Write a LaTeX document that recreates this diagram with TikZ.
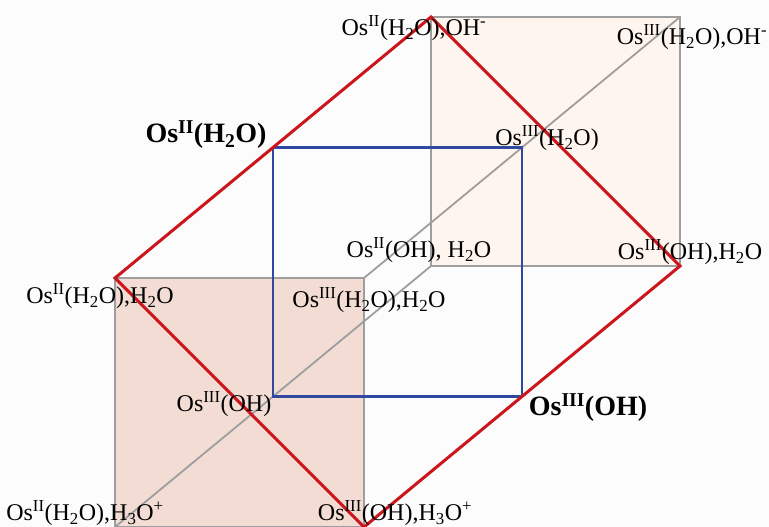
\documentclass[tikz,border=0pt]{standalone}
\usepackage{fontspec}
\setmainfont{Liberation Serif}
\usetikzlibrary{calc}

\definecolor{redline}{RGB}{204,22,30}
\definecolor{blueline}{RGB}{48,72,160}
\definecolor{grayline}{RGB}{158,158,158}
\definecolor{backfill}{RGB}{254,245,238}
\definecolor{frontfill}{RGB}{242,220,212}
\definecolor{paper}{RGB}{252,252,252}

\newcommand{\osion}[1]{Os\textsuperscript{#1}}
\newcommand{\water}{H\textsubscript{2}O}
\newcommand{\hydronium}{H\textsubscript{3}O\textsuperscript{+}}

\begin{document}
\begin{tikzpicture}[
    x=1pt, y=-1pt,
    edge/.style={draw=grayline, line width=1.8pt},
    plane/.style={draw=redline, line width=3pt, line join=miter},
    mid/.style={draw=blueline, line width=2.8pt},
    lbl/.style={font=\fontsize{24}{28}\selectfont, inner sep=0pt},
    big/.style={font=\fontsize{28}{32}\selectfont\bfseries, inner sep=0pt},
]
\useasboundingbox (0,0) rectangle (769,527);
\fill[paper] (0,0) rectangle (769,527);

%% Cara davantera (f) i cara posterior (b)
\coordinate (fa) at (115,278); \coordinate (fb) at (364,278);
\coordinate (fc) at (364,527); \coordinate (fd) at (115,527);
\coordinate (ba) at (431,17);  \coordinate (bb) at (680,17);
\coordinate (bc) at (680,266); \coordinate (bd) at (431,266);

\fill[frontfill] (fa) rectangle (fc);
\fill[backfill]  (ba) rectangle (bc);
\draw[edge] (fa) -- (fb) -- (fc) -- (fd) -- cycle;
\draw[edge] (ba) -- (bb) -- (bc) -- (bd) -- cycle;
\foreach \a/\b in {fa/ba, fb/bb, fc/bc, fd/bd}
  \draw[edge] (\a) -- (\b);

%% Secció intermèdia (blava)
\foreach \p in {a,b,c,d}
  \coordinate (m\p) at ($(f\p)!0.5!(b\p)$);
\draw[mid] (ma) -- (mb) -- (mc) -- (md) -- cycle;

%% Pla diagonal (vermell)
\draw[plane] (fa) -- (ba) -- (bc) -- (fc) -- cycle;

%% Etiquetes
\node[lbl] (ii-w-oh)   at (414,28)  {\osion{II}(\water),OH\textsuperscript{-}};
\node[lbl] (iii-w-oh)  at (692,37)  {\osion{III}(\water),OH\textsuperscript{-}};
\node[lbl] (iii-w)     at (547,138) {\osion{III}(\water)};
\node[big] (ii-w)      at (206,135) {\osion{II}(\water)};
\node[lbl] (ii-oh-w)   at (419,250) {\osion{II}(OH), \water};
\node[lbl] (iii-oh-w)  at (690,252) {\osion{III}(OH),\water};
\node[lbl] (ii-w-w)    at (100,296) {\osion{II}(\water),\water};
\node[lbl] (iii-w-w)   at (369,300) {\osion{III}(\water),\water};
\node[lbl] (iii-oh)    at (224,404) {\osion{III}(OH)};
\node[big] (iii-oh-b)  at (588,408) {\osion{III}(OH)};
\node[lbl] (ii-w-h3o)  at (85,513)  {\osion{II}(\water),\hydronium};
\node[lbl] (iii-oh-h3o) at (395,513) {\osion{III}(OH),\hydronium};

\end{tikzpicture}
\end{document}
